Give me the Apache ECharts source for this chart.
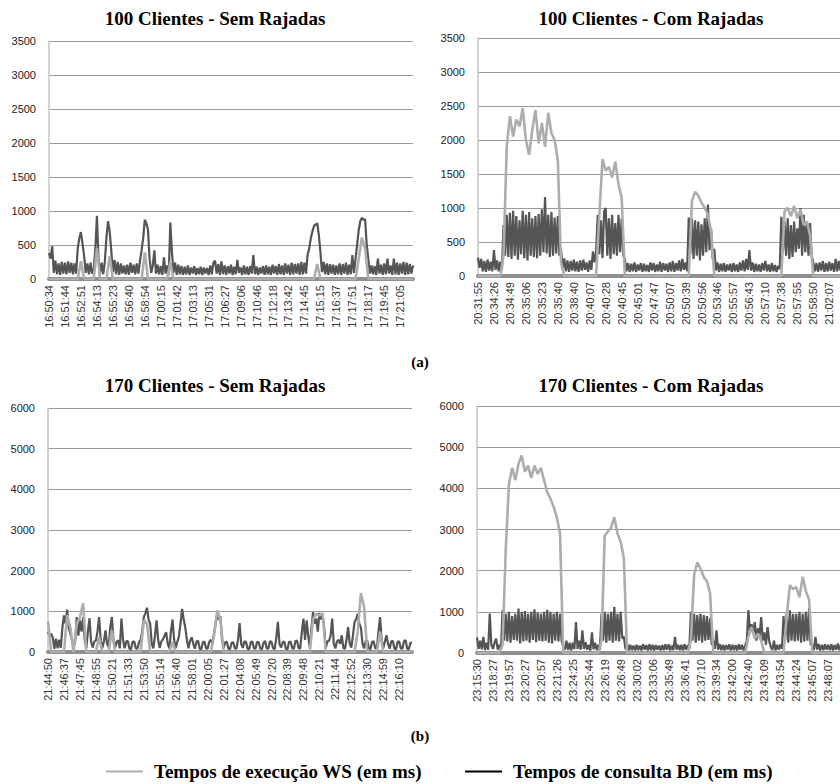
<!DOCTYPE html>
<html><head><meta charset="utf-8">
<script src="https://cdn.jsdelivr.net/npm/echarts@6.0.0/dist/echarts.min.js"></script>
<style>html,body{margin:0;padding:0;background:#fff}#c{width:840px;height:784px}</style>
</head><body><div id="c"></div>
<script>
// ---- tick labels (one every 10 BD samples) ----
const ticksA1 = ['16:50:34','16:51:44','16:52:51','16:54:13','16:55:23','16:56:40','16:58:54','17:00:15','17:01:42','17:03:13','17:05:31','17:06:27','17:09:06','17:10:46','17:12:18','17:13:42','17:14:45','17:15:15','17:16:37','17:17:51','17:18:17','17:19:45','17:21:05'];
const ticksA2 = ['20:31:55','20:34:26','20:34:49','20:35:06','20:35:23','20:35:40','20:38:40','20:40:07','20:40:28','20:40:45','20:45:01','20:47:47','20:50:07','20:50:39','20:50:56','20:53:46','20:55:57','20:56:43','20:57:10','20:57:38','20:57:55','20:58:50','21:02:07'];
const ticksB1 = ['21:44:50','21:46:37','21:47:45','21:48:55','21:50:21','21:51:33','21:53:50','21:55:14','21:56:40','21:58:01','22:00:05','22:01:27','22:04:08','22:05:49','22:07:20','22:08:39','22:09:48','22:10:21','22:11:44','22:12:52','22:13:30','22:14:59','22:16:10'];
const ticksB2 = ['23:15:30','23:18:27','23:19:57','23:20:27','23:20:57','23:21:26','23:24:25','23:25:44','23:26:19','23:26:49','23:30:02','23:33:06','23:35:49','23:36:41','23:37:10','23:39:34','23:42:00','23:42:40','23:43:09','23:43:54','23:44:24','23:45:07','23:48:07'];

// ---- 100 Clientes - Sem Rajadas ----
const bdA1 = [380,300,480,90,270,70,230,60,250,80,
240,70,260,90,240,70,230,80,450,600,
690,520,340,90,230,70,240,80,150,420,
930,300,80,240,70,260,620,850,700,420,
100,280,70,250,60,230,80,200,70,210,
60,240,90,210,70,230,80,270,420,600,
870,820,720,300,90,200,420,80,210,70,
190,60,320,80,200,60,830,400,90,240,
60,210,70,190,60,180,70,200,60,170,
80,190,60,160,70,180,60,170,80,160,
60,200,70,240,270,80,220,60,260,70,
200,60,190,80,210,60,180,70,280,90,
170,60,200,70,180,60,190,80,350,70,
180,60,170,80,190,60,200,70,180,60,
210,80,190,60,220,70,200,60,230,80,
210,60,240,70,220,80,230,60,250,70,
240,80,360,450,600,700,780,800,820,650,
400,100,250,70,230,60,220,80,210,60,
200,70,230,60,220,80,240,60,210,70,
350,90,300,500,720,850,900,870,880,500,
300,80,200,70,190,60,300,80,210,60,
230,70,300,80,200,60,300,70,240,60,
230,80,250,60,240,70,220,80,200];
const wsA1 = [0,0,0,0,0,0,0,0,0,0,
260,0,0,0,0,450,0,0,0,340,
0,0,0,0,0,0,0,0,0,0,
390,0,0,0,0,0,0,0,250,0,
0,0,0,0,0,0,0,0,0,0,
0,0,0,0,0,0,0,0,0,0,
0,0,0,0,0,0,0,0,0,0,
0,0,0,0,0,0,0,0,0,0,
0,0,0,0,220,0,0,0,0,0,
0,0,0,0,0,0,0,300,610,450,
0,0,0,0,0,0,0,0,0,0,
0,0,0,0,0];

// ---- 100 Clientes - Com Rajadas ----
const bdA2 = [270,120,250,70,220,60,240,80,210,70,
380,90,230,70,210,90,750,300,900,280,
930,250,960,300,880,240,820,320,960,260,
900,230,940,300,850,280,880,260,910,300,
980,350,1160,330,900,280,940,300,860,330,
880,300,400,100,260,70,230,60,220,80,
240,70,210,60,230,80,240,90,200,60,
230,90,360,200,360,900,320,820,260,950,
1000,300,850,250,900,320,780,300,900,350,
850,300,250,70,190,60,180,70,200,60,
170,80,190,60,180,70,160,60,200,80,
190,60,170,70,210,60,190,80,180,60,
200,70,220,60,190,80,230,70,250,90,
200,70,860,320,850,250,820,300,800,230,
760,300,850,350,1050,380,700,250,400,80,
200,60,180,70,190,60,170,80,180,60,
190,70,170,60,200,80,230,70,250,90,
380,80,200,60,180,70,170,60,190,80,
220,70,170,60,190,70,160,60,150,100,
870,350,800,300,850,250,750,280,800,350,
700,400,1000,300,900,350,800,300,780,300,
200,70,190,60,200,80,220,60,190,70,
210,80,190,60,250,70,220,80,120];
const wsA2 = [0,0,0,0,0,0,0,0,300,1900,
2350,2050,2300,2200,2470,2000,1780,2150,2440,1950,
2250,1900,2400,2100,2000,1700,200,0,0,0,
0,0,0,0,0,0,0,0,900,1720,
1550,1600,1450,1680,1350,1150,0,0,0,0,
0,0,0,0,0,0,0,0,0,0,
0,0,0,0,0,0,0,1100,1240,1180,
1080,1000,900,650,0,0,0,0,0,0,
0,0,0,0,0,0,0,0,0,0,
0,0,0,0,0,0,950,1000,880,1030,
850,980,750,800,600,0,0,0,0,0,
0,0,0,0,0];

// ---- 170 Clientes - Sem Rajadas ----
const bdB1 = [500,400,450,350,80,330,90,300,100,600,
900,700,1040,600,450,300,120,250,860,400,
780,500,850,300,100,500,830,250,110,260,
280,500,860,300,100,250,530,200,120,600,
860,300,110,250,290,90,820,300,90,260,
270,80,70,250,260,90,80,240,290,500,
860,950,1090,800,700,200,90,400,780,300,
100,260,310,400,490,200,90,500,800,300,
100,250,380,700,1060,800,600,300,90,280,
360,200,80,260,280,80,70,240,260,90,
80,250,300,200,460,700,900,800,880,300,
90,240,250,80,70,230,240,90,80,300,
710,200,100,260,250,80,70,240,260,90,
80,250,240,80,70,230,270,90,80,260,
250,90,70,350,740,200,110,240,260,80,
70,250,250,90,80,270,280,90,90,500,
820,300,780,400,100,600,980,700,820,500,
960,800,900,600,100,260,270,400,820,200,
90,260,300,200,410,100,80,300,615,200,
110,400,740,800,940,700,600,200,90,270,
280,90,70,250,260,90,90,500,860,300,
100,250,410,200,80,260,270,80,70,250,
260,90,80,270,290,80,70,230,220];
const wsB1 = [750,0,0,0,0,0,900,600,0,700,
850,1200,0,0,0,0,370,0,0,0,
530,0,0,0,0,0,0,0,0,0,
780,700,0,0,0,0,0,0,0,250,
0,0,0,0,0,0,0,0,0,0,
0,0,400,1020,800,0,0,0,0,0,
0,0,0,0,0,0,0,0,0,0,
0,0,0,0,0,0,0,0,0,0,
0,0,0,800,940,900,950,0,0,0,
0,0,0,0,0,0,0,500,1450,1100,
0,0,0,0,500,0,0,0,0,0,
0,0,0,0,0];

// ---- 170 Clientes - Com Rajadas ----
const bdB2 = [380,100,300,90,390,70,250,80,960,200,
100,250,350,80,200,90,1040,300,950,280,
1000,250,900,320,950,300,1080,230,1000,280,
1020,300,950,250,1000,320,1060,260,980,300,
950,280,1000,300,1050,250,1000,230,950,300,
1000,280,950,300,150,80,300,70,250,60,
250,90,750,100,300,80,550,100,260,80,
200,60,500,90,250,70,200,80,950,300,
1000,250,950,300,1000,250,1120,300,950,280,
1000,350,400,90,230,60,200,70,180,60,
200,70,180,60,210,80,190,60,210,70,
200,60,190,80,180,60,190,70,210,80,
210,60,180,70,390,80,200,70,200,60,
210,80,190,100,1000,300,950,250,920,300,
950,250,920,300,900,320,850,200,300,100,
550,80,220,70,200,60,190,80,210,60,
200,70,190,60,210,80,200,60,180,300,
1040,500,700,500,750,300,600,400,875,300,
500,200,630,300,150,70,300,60,200,80,
210,100,900,300,950,250,1040,300,950,280,
950,300,1000,250,950,280,1000,300,1100,200,
200,70,390,80,220,60,200,70,210,80,
200,70,210,60,190,80,230,70,200];
const wsB2 = [0,0,0,0,0,0,0,0,200,2500,
4100,4500,4200,4600,4800,4400,4550,4250,4550,4350,
4500,4200,3900,3750,3550,3300,2900,0,0,0,
0,0,0,0,0,0,0,0,0,300,
2850,2950,3050,3300,2900,2700,2300,0,0,0,
0,0,0,0,0,0,0,0,0,0,
0,0,0,0,0,0,0,300,1900,2200,
2050,1850,1750,1450,0,0,0,0,0,0,
0,0,0,0,0,400,630,350,470,300,
0,0,0,0,0,0,0,900,1650,1550,
1600,1350,1850,1500,1300,0,0,0,0,0,
0,0,0,0,0];

const titles = ['100 Clientes - Sem Rajadas','100 Clientes - Com Rajadas','170 Clientes - Sem Rajadas','170 Clientes - Com Rajadas'];
const NAME_WS = 'Tempos de execução WS (em ms)';
const NAME_BD = 'Tempos de consulta BD (em ms)';

const STEP = 10;
function cats(ticks, n, step) {
  const out = [];
  for (let i = 0; i < n; i++) out.push(i % step === 0 ? (ticks[i / step] || '') : '');
  return out;
}
function blanks(n) { const o = []; for (let i = 0; i < n; i++) o.push(String(i)); return o; }

const panels = [
  {grid:{left:49, top:41, width:364, height:238}, max:3500, interval:500, ticks:ticksA1, bd:bdA1, ws:wsA1, tx:215, ty:18},
  {grid:{left:478, top:38, width:364, height:238}, max:3500, interval:500, ticks:ticksA2, bd:bdA2, ws:wsA2, tx:651, ty:18},
  {grid:{left:48, top:408, width:364, height:244}, max:6000, interval:1000, ticks:ticksB1, bd:bdB1, ws:wsB1, tx:215, ty:385},
  {grid:{left:477, top:406, width:364, height:247}, max:6000, interval:1000, ticks:ticksB2, bd:bdB2, ws:wsB2, tx:651, ty:385}
];

const SANS = 'Liberation Sans';
const SERIF = 'Liberation Serif';
const C_WS = '#adadad', C_BD = '#555555';

const option = {
  animation: false,
  backgroundColor: '#fff',
  grid: [], xAxis: [], yAxis: [], series: [],
  graphic: [],
  legend: [
    {left:101, top:757, icon:'rect', itemWidth:37, itemHeight:2, selectedMode:false,
     data:[{name:NAME_WS, itemStyle:{color:C_WS}}],
     textStyle:{fontFamily:SERIF, fontWeight:'bold', fontSize:19, color:'#000', padding:[0,0,0,6]}},
    {left:460, top:757, icon:'rect', itemWidth:37, itemHeight:2, selectedMode:false,
     data:[{name:NAME_BD, itemStyle:{color:'#000'}}],
     textStyle:{fontFamily:SERIF, fontWeight:'bold', fontSize:19, color:'#000', padding:[0,0,0,6]}}
  ]
};

panels.forEach((p, k) => {
  const n = p.bd.length;
  option.grid.push(Object.assign({outerBoundsMode:'none', containLabel:false}, p.grid));
  option.xAxis.push({
    gridIndex:k, type:'category', boundaryGap:false, data:cats(p.ticks, n, STEP),
    offset:2,
    axisLine:{show:true, lineStyle:{color:'#8f8f8f', width:4}},
    axisTick:{show:false}, splitLine:{show:false},
    axisLabel:{interval:STEP-1, rotate:90, margin:4, fontSize:11, fontFamily:SANS, color:'#333'}
  });
  option.xAxis.push({
    gridIndex:k, type:'category', boundaryGap:false, data:blanks(p.ws.length), show:false
  });
  option.yAxis.push({
    gridIndex:k, type:'value', min:0, max:p.max, interval:p.interval,
    axisLine:{show:true, lineStyle:{color:'#c4c4c4', width:1.5}},
    axisTick:{show:false},
    splitLine:{show:true, lineStyle:{color:'#9a9a9a', width:1}},
    axisLabel:{margin:13, fontSize:11, fontFamily:SANS, color:'#222', formatter:(v) => String(v)}
  });
  option.series.push({
    name:NAME_BD, type:'line', xAxisIndex:2*k, yAxisIndex:k, data:p.bd,
    symbol:'none', showSymbol:false, lineStyle:{color:C_BD, width:2.2}, itemStyle:{color:C_BD}, z:2
  });
  option.series.push({
    name:NAME_WS, type:'line', xAxisIndex:2*k+1, yAxisIndex:k, data:p.ws,
    symbol:'none', showSymbol:false, lineStyle:{color:C_WS, width:2.6}, itemStyle:{color:C_WS}, z:3
  });
  option.graphic.push({type:'text', x:p.tx, y:p.ty, style:{text:titles[k], font:'bold 19px ' + SERIF, fill:'#000', textAlign:'center', textVerticalAlign:'middle', align:'center', verticalAlign:'middle'}});
});
option.graphic.push({type:'text', x:420, y:362, style:{text:'(a)', font:'bold 15px ' + SERIF, fill:'#000', textAlign:'center', textVerticalAlign:'middle', align:'center', verticalAlign:'middle'}});
option.graphic.push({type:'text', x:420, y:736, style:{text:'(b)', font:'bold 15px ' + SERIF, fill:'#000', textAlign:'center', textVerticalAlign:'middle', align:'center', verticalAlign:'middle'}});

const chart = echarts.init(document.getElementById('c'), null, {renderer:'svg', width:840, height:784});
chart.setOption(option);
</script>
</body></html>
